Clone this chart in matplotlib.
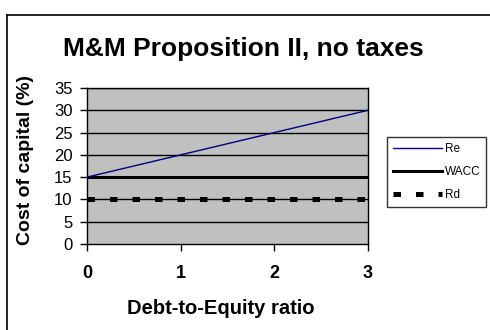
import matplotlib
matplotlib.use("Agg")
import matplotlib.pyplot as plt
from matplotlib.lines import Line2D

# Data
ratio = [0, 1, 2, 3]
re_vals = [15, 20, 25, 30]
wacc_vals = [15, 15, 15, 15]
rd_vals = [10, 10, 10, 10]
y_ticks = [0, 5, 10, 15, 20, 25, 30, 35]
x_ticks = [0, 1, 2, 3]

W, H = 490, 330
plt.rcParams['font.family'] = ['Liberation Sans', 'DejaVu Sans']
fig = plt.figure(figsize=(W / 100, H / 100), dpi=100)
fig.patch.set_facecolor('white')

def fx(px):
    return px / W

def fy(py):
    return 1 - py / H

left, right, top, bottom = 87, 368, 88, 244
ax = fig.add_axes([fx(left), fy(bottom), fx(right - left), (bottom - top) / H])
ax.set_facecolor('#C0C0C0')

for y in y_ticks[1:]:
    ax.axhline(y, color='black', lw=1.0, zorder=1)

ax.plot(ratio, rd_vals, color='black', lw=3.6, linestyle=(0, (1.5, 3.0)),
        solid_capstyle='butt', dash_capstyle='butt', label='Rd', zorder=3)
ax.plot(ratio, wacc_vals, color='black', lw=2.2, label='WACC', zorder=3)
ax.plot(ratio, re_vals, color='#000080', lw=1.0, label='Re', zorder=4)

ax.set_xlim(0, 3)
ax.set_ylim(0, 35)
ax.set_xticks(x_ticks)
ax.set_yticks(y_ticks)
ax.set_xticklabels([str(t) for t in x_ticks], fontweight='bold')
ax.tick_params(axis='both', direction='out', length=5, width=1, color='black')
ax.tick_params(axis='x', pad=10, labelsize=13)
ax.tick_params(axis='y', pad=5.5, labelsize=12)
for s in ax.spines.values():
    s.set_linewidth(1.0)
    s.set_color('black')

fig.text(fx(243), fy(49), 'M&M Proposition II, no taxes', fontsize=19,
         fontweight='bold', ha='center', va='center')
fig.text(fx(221), fy(309), 'Debt-to-Equity ratio', fontsize=14.5,
         fontweight='bold', ha='center', va='center')
fig.text(fx(26), fy(160), 'Cost of capital (%)', fontsize=14,
         fontweight='bold', ha='center', va='center', rotation=90)

handles, labels = ax.get_legend_handles_labels()
order = [2, 1, 0]
leg = fig.legend([handles[i] for i in order], [labels[i] for i in order],
                 loc='upper left', bbox_to_anchor=(fx(387), fy(137)),
                 fontsize=8.5, frameon=True, fancybox=False, edgecolor='black',
                 handlelength=4.15, handletextpad=0.25, labelspacing=0.95,
                 borderpad=0.5, borderaxespad=0)
leg.get_frame().set_linewidth(1.0)

# outer frame
fig.add_artist(Line2D([fx(7), fx(W + 5)], [fy(15), fy(15)], transform=fig.transFigure,
                      color='black', lw=1.2))
fig.add_artist(Line2D([fx(7), fx(7)], [fy(15), fy(H + 5)], transform=fig.transFigure,
                      color='black', lw=1.2))

fig.savefig('out.png', dpi=100)
